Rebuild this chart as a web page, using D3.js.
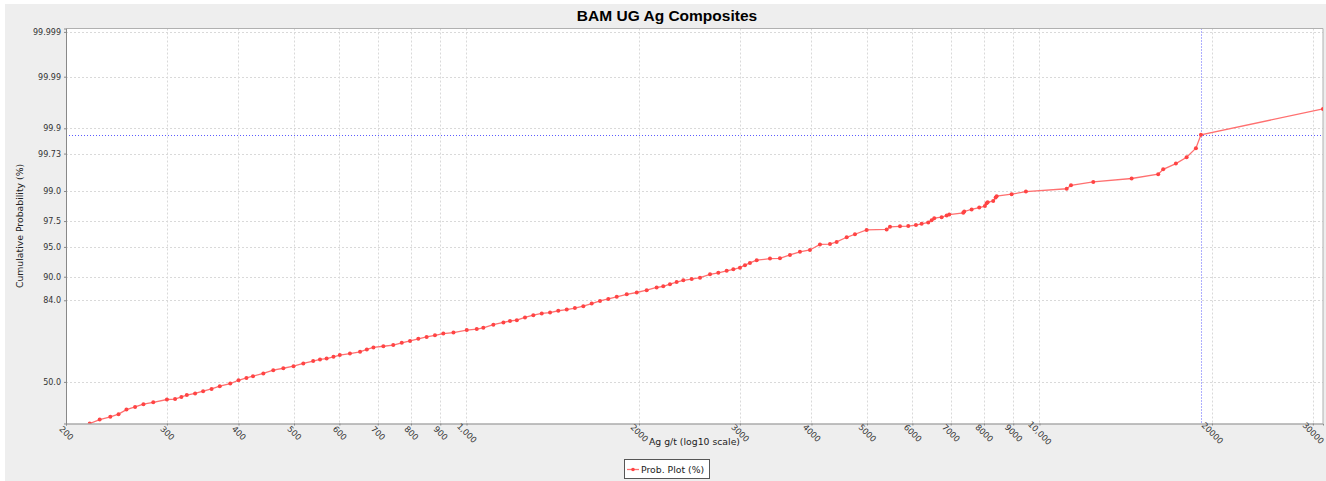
<!DOCTYPE html>
<html><head><meta charset="utf-8">
<script src="https://cdn.jsdelivr.net/npm/d3@7"></script>
<style>body{margin:0;background:#fff}svg{display:block}</style>
</head><body>
<svg id="c" width="1326" height="481"></svg>
<script>
// ---- data ----
const agValues = [220,229,239,247,255,264,273,284,300,310,318,325,336,347,359,371,387,400,413,424,442,460,479,499,519,540,555,570,586,601,626,652,670,688,716,745,771,797,824,852,881,911,949,1001,1042,1070,1114,1160,1191,1224,1265,1308,1353,1399,1446,1496,1546,1599,1654,1710,1768,1829,1904,1982,2063,2147,2205,2265,2327,2390,2472,2556,2661,2751,2845,2922,3001,3062,3124,3210,3386,3524,3669,3819,3976,4139,4309,4426,4608,4764,4993,5411,5484,5709,5902,6087,6228,6396,6484,6552,6749,6887,6959,7362,7391,7614,7850,8032,8087,8120,8304,8385,8419,8941,9470,11156,11350,12414,14482,16114,16442,17302,18064,18752,19136,31250];
const cumProb = [30.6,32.3,33.5,34.7,36.8,38.0,39.3,40.2,41.5,41.7,42.75,43.6,44.4,45.5,46.6,47.9,49.2,50.8,51.9,52.8,54.1,55.7,56.6,57.6,58.9,60.0,60.8,61.2,62.0,62.8,63.5,64.3,65.4,66.3,66.8,67.3,68.3,69.1,70.0,70.8,71.5,72.2,72.6,73.6,74.0,74.5,75.7,76.55,77.1,77.4,78.4,79.2,79.8,80.1,80.7,81.1,81.6,82.2,83.0,83.8,84.4,85.0,85.7,86.2,86.8,87.5,87.8,88.3,88.8,89.2,89.5,89.8,90.5,90.8,91.2,91.5,91.8,92.25,92.65,93.1,93.35,93.4,93.9,94.35,94.6,95.3,95.35,95.6,96.1,96.4,96.8,96.84,97.06,97.1,97.12,97.2,97.3,97.4,97.56,97.7,97.76,97.87,97.93,98.03,98.11,98.22,98.32,98.39,98.52,98.57,98.63,98.77,98.82,98.89,98.98,99.07,99.17,99.26,99.34,99.43,99.52,99.61,99.69,99.78,99.87,99.956];
const xTicks = [200,300,400,500,600,700,800,900,1000,2000,3000,4000,5000,6000,7000,8000,9000,10000,20000,30000];
const xTickLabels = ["200","300","400","500","600","700","800","900","1,000","2000","3000","4000","5000","6000","7000","8000","9000","10,000","20000","30000"];
const yTicks = [50.0,84.0,90.0,95.0,97.5,99.0,99.73,99.9,99.99,99.999];
const yTickLabels = ["50.0","84.0","90.0","95.0","97.5","99.0","99.73","99.9","99.99","99.999"];
const xDomain = [200, 31250];
const yDomain = [30.61, 99.99917];
const crosshairValue = 19136, crosshairProb = 99.87;
const title = "BAM UG Ag Composites";
const xLabel = "Ag g/t (log10 scale)";
const yLabel = "Cumulative Probability (%)";
const legendLabel = "Prob. Plot (%)";

// inverse normal CDF (probability-paper transform)
function probit(p){
  const a=[-3.969683028665376e+01,2.209460984245205e+02,-2.759285104469687e+02,1.383577518672690e+02,-3.066479806614716e+01,2.506628277459239e+00];
  const b=[-5.447609879822406e+01,1.615858368580409e+02,-1.556989798598866e+02,6.680131188771972e+01,-1.328068155288572e+01];
  const c=[-7.784894002430293e-03,-3.223964580411365e-01,-2.400758277161838e+00,-2.549671348440160e+00,4.374664141464968e+00,2.938163982698783e+00];
  const d=[7.784695709041462e-03,3.224671290700398e-01,2.445134137625199e+00,3.754408661907416e+00];
  const pl=0.02425, ph=1-pl; let q,r;
  if(p<pl){q=Math.sqrt(-2*Math.log(p));return (((((c[0]*q+c[1])*q+c[2])*q+c[3])*q+c[4])*q+c[5])/((((d[0]*q+d[1])*q+d[2])*q+d[3])*q+1);}
  if(p<=ph){q=p-0.5;r=q*q;return (((((a[0]*r+a[1])*r+a[2])*r+a[3])*r+a[4])*r+a[5])*q/(((((b[0]*r+b[1])*r+b[2])*r+b[3])*r+b[4])*r+1);}
  q=Math.sqrt(-2*Math.log(1-p));return -(((((c[0]*q+c[1])*q+c[2])*q+c[3])*q+c[4])*q+c[5])/((((d[0]*q+d[1])*q+d[2])*q+d[3])*q+1);
}

const W=1326,H=481;
const L=66,R=1323,T=28.5,B=423.5;
const svg=d3.select("#c");
const FONT="DejaVu Sans";

svg.append("rect").attr("width",W).attr("height",H).attr("fill","#ffffff");
svg.append("rect").attr("x",5).attr("y",4).attr("width",W-5).attr("height",H-4).attr("fill","#eeeeee");
svg.append("rect").attr("x",L).attr("y",T).attr("width",R-L).attr("height",B-T).attr("fill","#ffffff");

const x=d3.scaleLog().domain(xDomain).range([L,R]);
const yz=d3.scaleLinear().domain([probit(yDomain[0]/100),probit(yDomain[1]/100)]).range([B,T]);
const y=p=>yz(probit(p/100));

// grid
const grid=svg.append("g");
xTicks.forEach(v=>{const px=Math.round(x(v))+0.5;grid.append("line").attr("x1",px).attr("x2",px).attr("y1",T).attr("y2",B).attr("stroke","#d9d9d9").attr("stroke-dasharray","2,2");});
yTicks.forEach(p=>{const py=Math.round(y(p))+0.5;grid.append("line").attr("x1",L).attr("x2",R).attr("y1",py).attr("y2",py).attr("stroke","#d9d9d9").attr("stroke-dasharray","2,2");});

// crosshairs
const cx=Math.round(x(crosshairValue))+0.5, cy=Math.round(y(crosshairProb))+0.5;
const CH="#5c5cff";
svg.append("line").attr("x1",cx).attr("x2",cx).attr("y1",T).attr("y2",B).attr("stroke",CH).attr("stroke-width",1).attr("stroke-dasharray","1,2");
svg.append("line").attr("x1",L).attr("x2",R).attr("y1",cy).attr("y2",cy).attr("stroke",CH).attr("stroke-width",1).attr("stroke-dasharray","1,2");

// outline top/right
svg.append("path").attr("d",`M${L},${T}H${R}V${B}`).attr("fill","none").attr("stroke","#b0b0b0");

// series
svg.append("clipPath").attr("id","clip").append("rect").attr("x",L).attr("y",T).attr("width",R-L).attr("height",B-T);
const pts=agValues.map((v,i)=>[x(v),y(cumProb[i])]);
const gS=svg.append("g").attr("clip-path","url(#clip)");
gS.append("path").attr("d",d3.line()(pts)).attr("fill","none").attr("stroke","#ff7070").attr("stroke-width",1.3);
gS.selectAll("circle").data(pts).join("circle").attr("cx",d=>d[0]).attr("cy",d=>d[1]).attr("r",2).attr("fill","#ff4444");

// axes
const yAxis=d3.axisLeft(yz).tickValues(yTicks.map(p=>probit(p/100))).tickFormat((d,i)=>yTickLabels[i]).tickSize(2).tickPadding(3);
const gy=svg.append("g").attr("transform",`translate(${L},0)`).call(yAxis);
gy.select(".domain").attr("stroke","#888888");
gy.selectAll(".tick line").attr("stroke","#888888");
gy.selectAll("text").attr("font-family",FONT).attr("font-size",8).attr("fill","#333333");

const xAxis=d3.axisBottom(x).tickValues(xTicks).tickFormat((d,i)=>xTickLabels[i]).tickSize(2);
const gx=svg.append("g").attr("transform",`translate(0,${B})`).call(xAxis);
gx.select(".domain").attr("stroke","#888888");
gx.selectAll(".tick line").attr("stroke","#888888");
gx.selectAll("text").attr("font-family",FONT).attr("font-size",8.3).attr("fill","#333333")
  .attr("text-anchor","middle").attr("dy",null).attr("y",null)
  .attr("dominant-baseline","central")
  .attr("transform","translate(0,9.5) rotate(45)");

// labels
svg.append("text").attr("x",667).attr("y",21).attr("text-anchor","middle").attr("font-family","Liberation Sans").attr("font-weight","bold").attr("font-size",15.5).attr("fill","#000").text(title);
svg.append("text").attr("x",(L+R)/2).attr("y",445).attr("text-anchor","middle").attr("font-family",FONT).attr("font-size",9.3).attr("fill","#222").text(xLabel);
svg.append("text").attr("transform",`translate(23,${(T+B)/2}) rotate(-90)`).attr("text-anchor","middle").attr("font-family",FONT).attr("font-size",9.3).attr("fill","#222").text(yLabel);

// legend
const lg=svg.append("g");
lg.append("rect").attr("x",624.5).attr("y",459.5).attr("width",85).attr("height",19).attr("fill","#fff").attr("stroke","#555");
lg.append("line").attr("x1",627).attr("x2",639).attr("y1",469.5).attr("y2",469.5).attr("stroke","#ff7070").attr("stroke-width",1.3);
lg.append("circle").attr("cx",633).attr("cy",469.5).attr("r",1.8).attr("fill","#ff4444");
lg.append("text").attr("x",641).attr("y",473).attr("font-family",FONT).attr("font-size",9.3).attr("fill","#222").text(legendLabel);
</script>
</body></html>
